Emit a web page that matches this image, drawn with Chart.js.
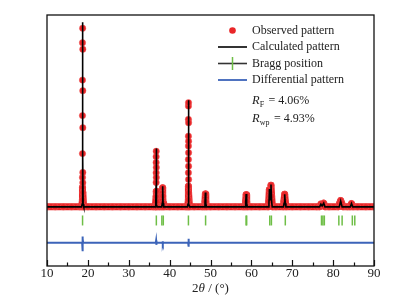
<!DOCTYPE html>
<html>
<head>
<meta charset="utf-8">
<script src="https://cdn.jsdelivr.net/npm/chart.js@4.4.1/dist/chart.umd.min.js"></script>
<style>
  body { margin: 0; background: #fff; }
  #wrap { width: 408px; height: 303px; }
</style>
</head>
<body>
<div id="wrap"><canvas id="xrdChart"></canvas></div>
<script>
// observed pattern (2theta in degrees, intensity in arbitrary units, baseline = 0)
const obsX = [10, 12, 14, 16, 18, 18.5, 18.68, 18.68, 18.68, 18.68, 18.68, 18.68, 18.68, 18.72, 18.76, 18.76, 18.76, 18.76, 18.76, 18.76, 18.95, 20, 22, 24, 26, 28, 30, 32, 34, 36, 36.5,
    36.7, 36.7, 36.7, 36.7, 36.7, 36.72, 36.74, 36.74, 36.74, 36.9, 37.5, 38.1, 38.25, 38.25, 38.3, 38.35, 38.4, 38.55, 40, 42, 44, 44.4,
    44.6, 44.6, 44.6, 44.6, 44.6, 44.6, 44.6, 44.6, 44.62, 44.64, 44.64, 44.64, 44.64, 44.64, 44.64, 44.85, 46, 48, 48.5, 48.65, 48.75, 48.85, 49.0,
    50, 52, 54, 56, 58, 58.45, 58.6, 58.72, 58.85, 59.0, 60, 62, 64.1, 64.25, 64.4, 64.6, 64.8, 64.95, 65.15, 66, 67.8, 67.95, 68.15, 68.3, 68.5,
    70, 72, 74, 76, 76.7, 77.0, 77.3, 77.7, 78.0, 79, 81.3, 81.6, 81.85, 82.1, 82.4, 83.5, 84.1, 84.5, 84.9, 86, 88, 90];
const obsY = [0, 0, 0, 0, 0, 0, 4, 10.8, 16.4, 29.7, 50.9, 70.7, 91.5, 99.6, 87.9, 64.8, 44.1, 19.2, 13.5, 8, 0, 0, 0, 0, 0, 0, 0, 0, 0, 0, 0,
    5.8, 13.6, 19, 24.7, 28, 31, 22, 16.4, 8.6, 0, 0, 0, 4, 7.8, 10.6, 6, 2, 0, 0, 0, 0, 0,
    4, 11.5, 19, 26.4, 33.9, 39.4, 48.8, 56.2, 58.1, 46.9, 36.6, 30.2, 22.7, 15.3, 7.8, 0, 0, 0, 0, 3, 7.2, 3, 0,
    0, 0, 0, 0, 0, 0, 3, 6.8, 3, 0, 0, 0, 0, 3, 9.5, 6, 12, 6, 0, 0, 0, 3, 7, 3, 0,
    0, 0, 0, 0, 0, 1.5, 1, 2, 0, 0, 0, 2, 3.5, 2, 0, 0, 0, 1.8, 0, 0, 0, 0];

// calculated pattern
const calcX = [10, 18.45, 18.6, 18.68, 18.72, 18.76, 18.84, 19.0, 36.45, 36.6, 36.68, 36.72, 36.76, 36.84, 37.0, 38.05, 38.2, 38.3, 38.4, 38.55,
    44.35, 44.5, 44.58, 44.62, 44.66, 44.74, 44.9, 48.5, 48.65, 48.75, 48.85, 49.0, 58.45, 58.6, 58.72, 58.85, 59.0,
    64.15, 64.3, 64.42, 64.6, 64.8, 64.95, 65.1, 67.85, 68.0, 68.15, 68.3, 68.45, 76.7, 77.0, 77.3, 77.7, 78.0,
    81.5, 81.85, 82.2, 84.2, 84.5, 84.8, 90];
const calcY = [0, 0, 1.5, 30, 103, 30, 1.5, 0, 0, 1, 12, 32.5, 12, 1, 0, 0, 2, 11.5, 2, 0,
    0, 1.5, 20, 59.5, 20, 1.5, 0, 0, 2, 8, 2, 0, 0, 2, 7.2, 2, 0,
    0, 2, 10, 4, 12.5, 3, 0, 0, 2, 7, 2, 0, 0, 1.5, 0.5, 2, 0,
    0, 3.2, 0, 0, 1.8, 0, 0];

// bragg reflection positions
const braggPos = [18.7, 36.75, 38.1, 38.45, 44.6, 48.8, 58.7, 58.85, 64.5, 64.9, 68.3, 77.15, 77.5, 77.85, 81.4, 82.2, 84.7, 85.3];
const braggLevel = -7.6;

// difference curve (observed - calculated, shifted down)
const diffX = [10, 18.6, 18.68, 18.72, 18.76, 18.84, 36.62, 36.7, 36.75, 36.82, 38.22, 38.3, 38.36, 38.42, 44.52, 44.6, 44.65, 44.72, 90];
const diffY = [-20, -20, -16.5, -24.8, -17.8, -20, -20, -18.8, -21.2, -20, -20, -19.2, -20.8, -20, -20, -17.8, -22.2, -20, -20];

// axis
const xTickLabels = [10, 20, 30, 40, 50, 60, 70, 80, 90];
const xMinorTicks = [15, 25, 35, 45, 55, 65, 75, 85];
const yRange = [-33, 107];

const obsRed = 'rgb(233,38,40)';
const obsHalo = 'rgba(240,90,90,0.45)';
const bandLimit = 13;
const serif = '"Liberation Serif", "Times New Roman", serif';

function pairs(xs, ys) {
    return xs.map((x, i) => ({ x: x, y: ys[i] }));
}

// draws frame, inward ticks, tick labels, axis title and the legend box text
const decorations = {
    id: 'decorations',
    afterDraw(chart) {
        const ctx = chart.ctx;
        const area = chart.chartArea;
        const xs = chart.scales.x;
        ctx.save();

        // frame
        ctx.strokeStyle = '#111';
        ctx.lineWidth = 1.3;
        ctx.strokeRect(area.left, area.top, area.right - area.left, area.bottom - area.top);

        // ticks pointing inside
        ctx.lineWidth = 1.2;
        ctx.beginPath();
        xTickLabels.forEach(v => {
            const px = Math.round(xs.getPixelForValue(v)) + 0.5;
            ctx.moveTo(px, area.bottom);
            ctx.lineTo(px, area.bottom - 6);
        });
        xMinorTicks.forEach(v => {
            const px = Math.round(xs.getPixelForValue(v)) + 0.5;
            ctx.moveTo(px, area.bottom);
            ctx.lineTo(px, area.bottom - 3.5);
        });
        ctx.stroke();

        // tick labels
        ctx.fillStyle = '#222';
        ctx.font = '13px ' + serif;
        ctx.textAlign = 'center';
        ctx.textBaseline = 'middle';
        xTickLabels.forEach(v => {
            ctx.fillText(String(v), xs.getPixelForValue(v), area.bottom + 8);
        });

        // axis title: 2θ / (°) with italic theta
        const cx = (area.left + area.right) / 2;
        const ty = area.bottom + 23;
        const parts = [['2', '13px ' + serif], ['θ', 'italic 13px ' + serif], [' / (°)', '13px ' + serif]];
        let total = 0;
        parts.forEach(p => { ctx.font = p[1]; total += ctx.measureText(p[0]).width; });
        let tx = cx - total / 2;
        ctx.textAlign = 'left';
        parts.forEach(p => {
            ctx.font = p[1];
            ctx.fillText(p[0], tx, ty);
            tx += ctx.measureText(p[0]).width;
        });

        // legend
        const lx0 = 218, lx1 = 247, lmid = 232.5, textX = 252;
        const rows = [30.5, 47, 63.5, 80];

        ctx.fillStyle = obsRed;
        ctx.beginPath();
        ctx.arc(lmid, rows[0], 3.3, 0, Math.PI * 2);
        ctx.fill();

        ctx.strokeStyle = '#000';
        ctx.lineWidth = 1.6;
        ctx.beginPath();
        ctx.moveTo(lx0, rows[1]);
        ctx.lineTo(lx1, rows[1]);
        ctx.stroke();

        ctx.strokeStyle = '#333';
        ctx.beginPath();
        ctx.moveTo(lx0, rows[2]);
        ctx.lineTo(lx1, rows[2]);
        ctx.stroke();
        ctx.strokeStyle = 'rgb(110,190,70)';
        ctx.lineWidth = 1.5;
        ctx.beginPath();
        ctx.moveTo(lmid, rows[2] - 6.5);
        ctx.lineTo(lmid, rows[2] + 6.5);
        ctx.stroke();

        ctx.strokeStyle = 'rgb(60,100,185)';
        ctx.lineWidth = 1.8;
        ctx.beginPath();
        ctx.moveTo(lx0, rows[3]);
        ctx.lineTo(lx1, rows[3]);
        ctx.stroke();

        ctx.fillStyle = '#222';
        ctx.font = '12px ' + serif;
        ['Observed pattern', 'Calculated pattern', 'Bragg position', 'Differential pattern'].forEach((t, i) => {
            ctx.fillText(t, textX, rows[i]);
        });

        // R factors
        function rLine(sub, val, y) {
            let x = textX;
            ctx.font = 'italic 12.5px ' + serif;
            ctx.fillText('R', x, y);
            x += ctx.measureText('R').width;
            ctx.font = '8px ' + serif;
            ctx.fillText(sub, x, y + 4);
            x += ctx.measureText(sub).width + 1.5;
            ctx.font = '12px ' + serif;
            ctx.fillText(' = ' + val, x, y);
        }
        rLine('F', '4.06%', 101);
        rLine('wp', '4.93%', 119);

        ctx.restore();
    }
};

const ctx = document.getElementById('xrdChart');
const chart = new Chart(ctx, {
    type: 'line',
    data: {
        datasets: [
            {
                label: 'Calculated pattern',
                data: pairs(calcX, calcY),
                borderColor: '#000',
                borderWidth: 1.6,
                pointRadius: 0,
                tension: 0,
                order: 0
            },
            {
                label: 'Differential pattern',
                data: pairs(diffX, diffY),
                borderColor: 'rgb(60,100,185)',
                borderWidth: 2,
                pointRadius: 0,
                tension: 0,
                order: 1
            },
            {
                label: 'Bragg position',
                type: 'scatter',
                data: braggPos.map(p => ({ x: p, y: braggLevel })),
                pointStyle: 'line',
                rotation: 90,
                radius: 5,
                borderColor: 'rgb(110,190,70)',
                borderWidth: 1.5,
                order: 2
            },
            {
                label: 'Observed pattern',
                data: pairs(obsX, obsY),
                borderColor: obsRed,
                borderWidth: 7,
                borderJoinStyle: 'round',
                borderCapStyle: 'round',
                // the thick band only follows the low part of the profile, tall peaks show as dots
                segment: {
                    borderColor: c => (c.p0.parsed.y > bandLimit || c.p1.parsed.y > bandLimit) ? 'rgba(0,0,0,0)' : obsRed
                },
                pointRadius: 3.2,
                pointBackgroundColor: obsRed,
                pointBorderColor: obsHalo,
                pointBorderWidth: 1,
                tension: 0,
                order: 3
            }
        ]
    },
    options: {
        responsive: true,
        maintainAspectRatio: false,
        animation: false,
        events: [],
        layout: { padding: { left: 47, right: 34, top: 15, bottom: 37 } },
        plugins: {
            legend: { display: false },
            tooltip: { enabled: false }
        },
        scales: {
            x: { type: 'linear', min: 10, max: 90, display: false },
            y: { type: 'linear', min: yRange[0], max: yRange[1], display: false }
        }
    },
    plugins: [decorations]
});
</script>
</body>
</html>
